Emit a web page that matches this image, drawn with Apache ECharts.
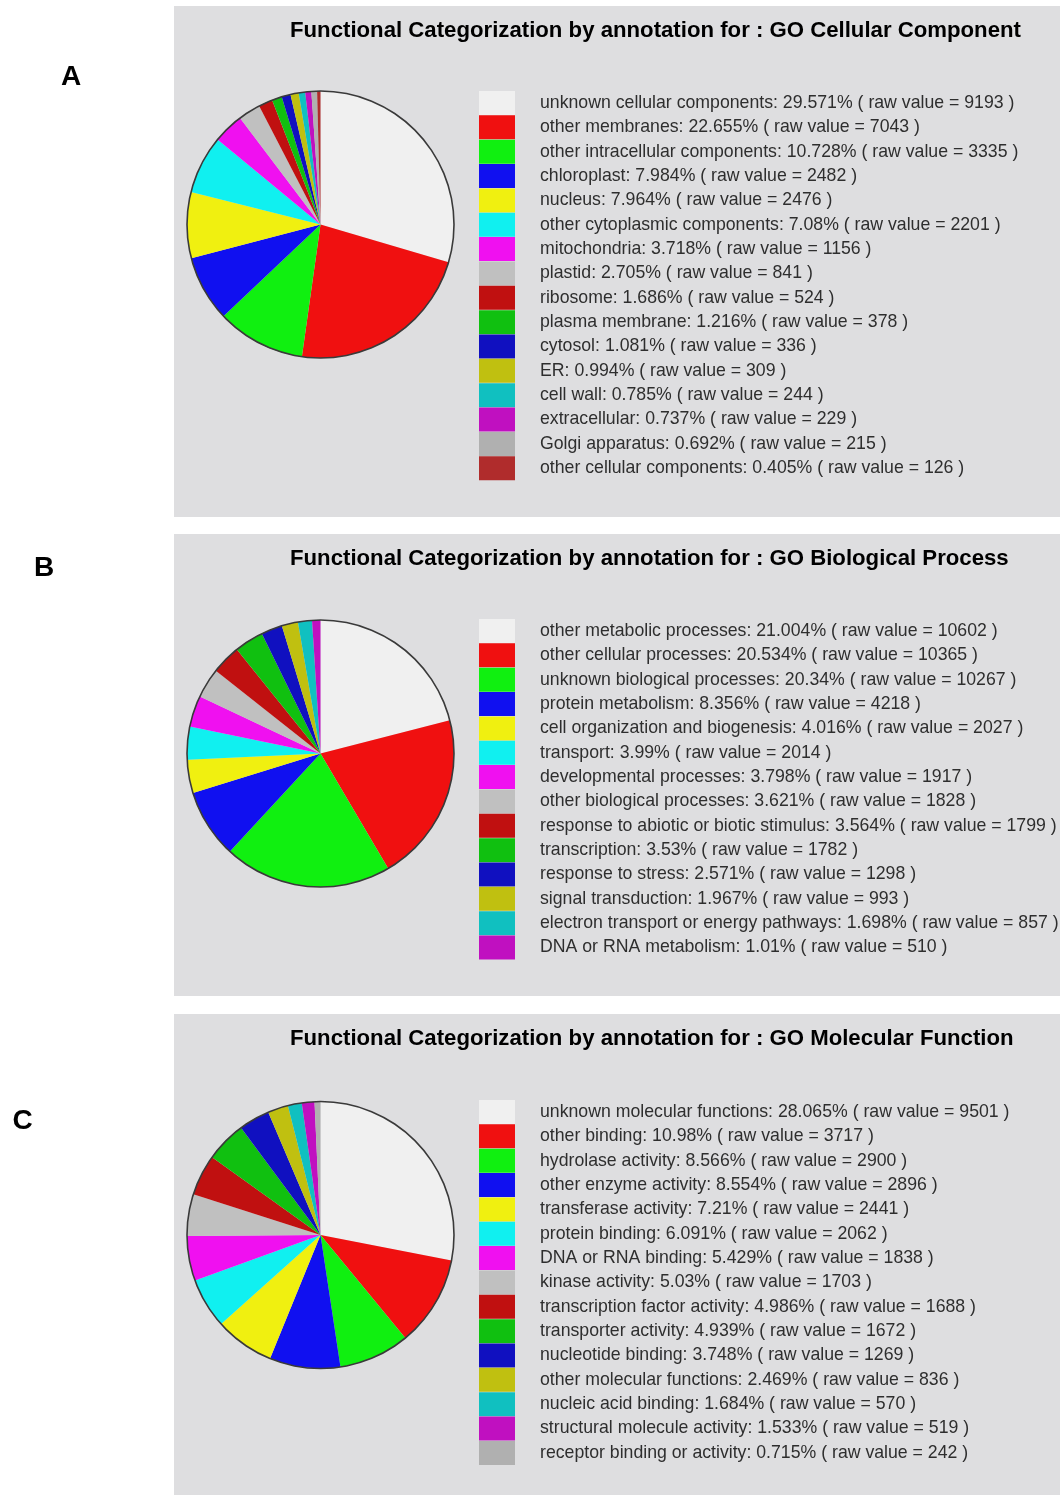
<!DOCTYPE html>
<html><head><meta charset="utf-8">
<script src="https://cdn.jsdelivr.net/npm/echarts@6/dist/echarts.min.js"></script>
<style>html,body{margin:0;padding:0;background:#fff}#c{width:1060px;height:1495px}</style>
</head><body><div id="c"></div>
<script>
// ---- Data: GO Cellular Component ----
const ccNames = ['unknown cellular components','other membranes','other intracellular components','chloroplast','nucleus','other cytoplasmic components','mitochondria','plastid','ribosome','plasma membrane','cytosol','ER','cell wall','extracellular','Golgi apparatus','other cellular components'];
const ccValues = [9193,7043,3335,2482,2476,2201,1156,841,524,378,336,309,244,229,215,126];
const ccPercents = [29.571,22.655,10.728,7.984,7.964,7.08,3.718,2.705,1.686,1.216,1.081,0.994,0.785,0.737,0.692,0.405];

// ---- Data: GO Biological Process ----
const bpNames = ['other metabolic processes','other cellular processes','unknown biological processes','protein metabolism','cell organization and biogenesis','transport','developmental processes','other biological processes','response to abiotic or biotic stimulus','transcription','response to stress','signal transduction','electron transport or energy pathways','DNA or RNA metabolism'];
const bpValues = [10602,10365,10267,4218,2027,2014,1917,1828,1799,1782,1298,993,857,510];
const bpPercents = [21.004,20.534,20.34,8.356,4.016,3.99,3.798,3.621,3.564,3.53,2.571,1.967,1.698,1.01];

// ---- Data: GO Molecular Function ----
const mfNames = ['unknown molecular functions','other binding','hydrolase activity','other enzyme activity','transferase activity','protein binding','DNA or RNA binding','kinase activity','transcription factor activity','transporter activity','nucleotide binding','other molecular functions','nucleic acid binding','structural molecule activity','receptor binding or activity'];
const mfValues = [9501,3717,2900,2896,2441,2062,1838,1703,1688,1672,1269,836,570,519,242];
const mfPercents = [28.065,10.98,8.566,8.554,7.21,6.091,5.429,5.03,4.986,4.939,3.748,2.469,1.684,1.533,0.715];

const panelTitles = ['Functional Categorization by annotation for : GO Cellular Component','Functional Categorization by annotation for : GO Biological Process','Functional Categorization by annotation for : GO Molecular Function'];
const panelLetters = ['A','B','C'];

const palette = ['#f0f0f0','#f01010','#10f010','#1010f0','#f0f010','#10f0f0','#f010f0','#c0c0c0','#c01010','#10c010','#1010c0','#c0c010','#10c0c0','#c010c0','#b0b0b0','#b02c2c'];

const datasets = [
  {names: ccNames, values: ccValues, pcts: ccPercents},
  {names: bpNames, values: bpValues, pcts: bpPercents},
  {names: mfNames, values: mfValues, pcts: mfPercents}
];

// layout (positions only)
const layout = [
  {top: 6,    bottom: 517,  center: [320.5, 224.5], legendTop: 91,   letter: [71, 77.5]},
  {top: 534,  bottom: 996,  center: [320.5, 753.5], legendTop: 619,  letter: [44, 568.5]},
  {top: 1014, bottom: 1495, center: [320.5, 1235],  legendTop: 1100, letter: [22.5, 1121]}
];
const R = 133.5;

const lookup = {};
datasets.forEach(d => d.names.forEach((n, i) => { lookup[n] = {p: d.pcts[i], v: d.values[i]}; }));

const graphics = [];
const titles = [];
const legends = [];
const series = [];
const fontFam = '"Liberation Sans", Arial, sans-serif';

datasets.forEach((d, k) => {
  const L = layout[k];
  graphics.push({type: 'rect', z: -10, silent: true,
    shape: {x: 174, y: L.top, width: 1060 - 174, height: L.bottom - L.top},
    style: {fill: '#dedee0'}});
  graphics.push({type: 'text', silent: true, x: L.letter[0], y: L.letter[1],
    style: {text: panelLetters[k], font: 'bold 28px ' + fontFam, fill: '#000', align: 'center', verticalAlign: 'middle'}});
  titles.push({text: panelTitles[k], left: 290, top: L.top + 14, padding: 0,
    textStyle: {fontFamily: fontFam, fontSize: 22.2, fontWeight: 'bold', color: '#000'}});
  legends.push({
    orient: 'vertical', left: 479, top: L.legendTop, padding: 0,
    itemWidth: 36, itemHeight: 24, itemGap: 0.35, icon: 'rect',
    selectedMode: false,
    data: d.names.map(n => ({name: n, itemStyle: {borderWidth: 0}})),
    formatter: name => name + ': ' + lookup[name].p + '% ( raw value = ' + lookup[name].v + ' )',
    textStyle: {fontFamily: fontFam, fontSize: 17.7, color: '#2e2e2e', padding: [2, 0, 0, 20]}
  });
  // outline ring
  series.push({type: 'pie', silent: true, center: L.center, radius: [R - 0.8, R + 0.8],
    startAngle: 90, label: {show: false}, labelLine: {show: false},
    itemStyle: {color: '#3a3a3a', borderWidth: 0}, emphasis: {disabled: true},
    data: [{name: 'outline' + k, value: 1}], z: 3});
  series.push({type: 'pie', center: L.center, radius: [0, R], startAngle: 90, clockwise: true,
    label: {show: false}, labelLine: {show: false}, emphasis: {disabled: true},
    itemStyle: {borderWidth: 0},
    data: d.names.map((n, i) => ({name: n, value: d.values[i], itemStyle: {color: palette[i]}})),
    z: 2});
});

const chart = echarts.init(document.getElementById('c'), null, {renderer: 'canvas'});
chart.setOption({
  backgroundColor: '#ffffff',
  animation: false,
  title: titles,
  legend: legends,
  graphic: graphics,
  tooltip: {show: false},
  series: series
});
</script></body></html>
